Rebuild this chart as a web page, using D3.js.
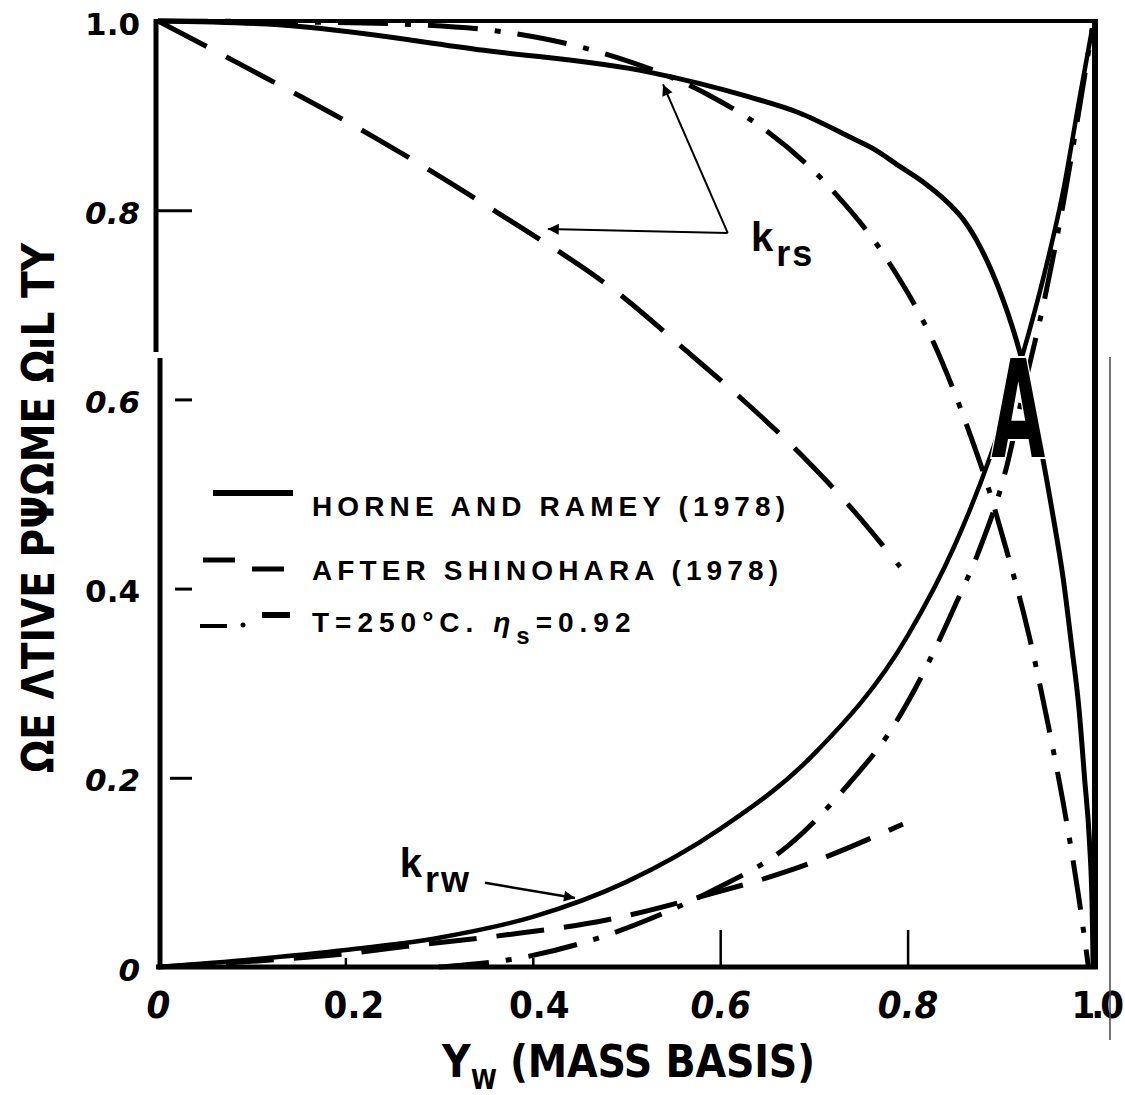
<!DOCTYPE html>
<html>
<head>
<meta charset="utf-8">
<script src="https://cdn.jsdelivr.net/npm/d3@7"></script>
<style>
  body { margin: 0; background: #fff; }
  svg { display: block; }
</style>
</head>
<body>
<div id="chart"></div>
<script>
// ---- data (Yw, kr) ----
const hrSteam = [[0,1],[0.129,0.996],[0.348,0.969],[0.524,0.946],[0.630,0.920],[0.684,0.903],[0.739,0.877],[0.765,0.864],[0.792,0.846],[0.819,0.828],[0.845,0.806],[0.861,0.788],[0.877,0.762],[0.890,0.735],[0.902,0.705],[0.911,0.679],[0.920,0.649],[0.944,0.539],[0.955,0.478],[0.966,0.411],[0.975,0.340],[0.983,0.272],[0.989,0.198],[0.994,0.134],[0.997,0.060],[0.998,0]];
const hrWater = [[0,0],[0.1,0.008],[0.2,0.018],[0.3,0.031],[0.4,0.053],[0.5,0.090],[0.6,0.146],[0.7,0.225],[0.8,0.350],[0.85,0.445],[0.888,0.539],[0.923,0.648],[0.944,0.725],[0.966,0.820],[0.984,0.921],[0.997,0.992]];
const shSteam = [[0,1],[0.094,0.951],[0.231,0.877],[0.363,0.797],[0.498,0.707],[0.563,0.652],[0.627,0.597],[0.687,0.541],[0.740,0.485],[0.792,0.423]];
const shWater = [[0,0],[0.1,0.006],[0.2,0.014],[0.275,0.023],[0.372,0.034],[0.480,0.050],[0.589,0.077],[0.671,0.101],[0.795,0.151]];
const tSteam = [[0,1],[0.15,0.999],[0.277,0.996],[0.379,0.987],[0.475,0.966],[0.591,0.920],[0.641,0.890],[0.716,0.825],[0.780,0.745],[0.825,0.666],[0.867,0.562],[0.886,0.507],[0.902,0.453],[0.929,0.353],[0.950,0.256],[0.966,0.174],[0.982,0.078],[0.993,0]];
const tWater = [[0.30,0],[0.394,0.011],[0.480,0.034],[0.535,0.055],[0.594,0.082],[0.671,0.127],[0.741,0.198],[0.780,0.247],[0.809,0.296],[0.835,0.348],[0.852,0.385],[0.875,0.437],[0.906,0.530],[0.925,0.615],[0.946,0.705],[0.967,0.812],[0.985,0.918],[0.997,0.992]];

const xTicks = [0, 0.2, 0.4, 0.6, 0.8, 1.0];
const xTickLabels = ["0", "0.2", "0.4", "0.6", "0.8", "1.0"];
const yTicks = [0, 0.2, 0.4, 0.6, 0.8, 1.0];
const yTickLabels = ["0", "0.2", "0.4", "0.6", "0.8", "1.0"];
const legendLabels = ["HORNE AND RAMEY (1978)", "AFTER SHINOHARA (1978)", "T=250°C. "];

// annotation anchors in data units
const krsVertex = [0.608, 0.776], krsTip1 = [0.539, 0.933], krsTip2 = [0.416, 0.780];
const krwFrom = [0.349, 0.089], krwTip = [0.445, 0.073];

const width = 1125, height = 1095;

const svg = d3.select("#chart").append("svg")
  .attr("width", width)
  .attr("height", height)
  .attr("viewBox", `0 0 ${width} ${height}`);

svg.append("rect").attr("width", width).attr("height", height).attr("fill", "#fff");

const x = d3.scaleLinear().domain([0, 1]).range([158, 1095]);
const y = d3.scaleLinear().domain([0, 1]).range([967, 21]);

// arrow marker
svg.append("defs").append("marker")
  .attr("id", "arr")
  .attr("viewBox", "0 0 10 10")
  .attr("refX", 10).attr("refY", 5)
  .attr("markerWidth", 24).attr("markerHeight", 11)
  .attr("markerUnits", "userSpaceOnUse")
  .attr("orient", "auto")
  .append("path").attr("d", "M0,0L10,5L0,10z").attr("fill", "#000");

// curves
const line = d3.line()
  .x(d => x(d[0]))
  .y(d => y(d[1]))
  .curve(d3.curveMonotoneX);

const series = [
  { data: shSteam, dash: "55,22", w: 5 },
  { data: shWater, dash: "48,20", w: 5 },
  { data: tSteam, dash: "50,17,6,17", w: 5 },
  { data: tWater, dash: "50,17,6,17", w: 5 },
  { data: hrSteam, dash: null, w: 5 },
  { data: hrWater, dash: null, w: 4.5 }
];

svg.append("g").selectAll("path")
  .data(series)
  .enter().append("path")
  .attr("d", d => line(d.data))
  .attr("fill", "none")
  .attr("stroke", "#000")
  .attr("stroke-width", d => d.w)
  .attr("stroke-dasharray", d => d.dash);

// frame (scan pieces)
const frame = svg.append("g").attr("stroke", "#000").attr("fill", "none");
frame.append("line").attr("x1", x(0) - 3).attr("x2", x(1) + 3).attr("y1", y(1)).attr("y2", y(1)).attr("stroke-width", 4);
frame.append("line").attr("x1", x(0) - 2).attr("x2", x(1) + 3).attr("y1", y(0)).attr("y2", y(0)).attr("stroke-width", 5);
frame.append("line").attr("x1", 156).attr("x2", 156).attr("y1", y(1) - 2).attr("y2", 352).attr("stroke-width", 5);
frame.append("line").attr("x1", 160).attr("x2", 160).attr("y1", 358).attr("y2", y(0) + 2).attr("stroke-width", 5);
frame.append("line").attr("x1", x(1)).attr("x2", x(1)).attr("y1", y(1) - 2).attr("y2", y(0) + 2).attr("stroke-width", 6);

// y axis
const yAxis = svg.append("g")
  .attr("transform", `translate(${x(0)},0)`)
  .call(d3.axisLeft(y).tickValues(yTicks).tickFormat((d, i) => yTickLabels[i]).tickSize(-34).tickPadding(18));
yAxis.select(".domain").remove();
yAxis.selectAll(".tick line")
  .attr("stroke-width", 3)
  .attr("x1", d => (d === 0.8 ? 0 : d === 0.2 ? 12 : 17))
  .attr("display", d => (d === 0 || d === 1 ? "none" : null));
yAxis.selectAll(".tick text")
  .attr("fill", "#000")
  .attr("dy", "0.42em")
  .style("font-family", "'DejaVu Sans', sans-serif")
  .style("font-weight", "bold")
  .style("font-size", "31px")
  .style("font-style", d => (d === 0.4 || d === 1 ? "normal" : "italic"));

// x axis
const xAxis = svg.append("g")
  .attr("transform", `translate(0,${y(0)})`)
  .call(d3.axisBottom(x).tickValues(xTicks).tickFormat((d, i) => xTickLabels[i]).tickSize(-37).tickPadding(24));
xAxis.select(".domain").remove();
xAxis.selectAll(".tick line")
  .attr("stroke-width", 2.5)
  .attr("y2", d => (d >= 0.6 ? -37 : -9))
  .attr("display", d => (d === 0 || d === 1 ? "none" : null));
xAxis.selectAll(".tick text")
  .attr("fill", "#000")
  .attr("dx", d => (d === 1 ? 0 : d === 0.2 ? 8 : d === 0.4 ? 6 : 0))
  .attr("text-anchor", d => (d === 1 ? "start" : "middle"))
  .attr("x", d => (d === 1 ? -24 : 0))
  .style("letter-spacing", d => (d === 1 ? "-4px" : null))
  .style("font-family", "'DejaVu Sans Condensed', 'DejaVu Sans', sans-serif")
  .style("font-weight", "bold")
  .style("font-size", "38px")
  .style("font-style", d => (d === 0 || d === 0.6 || d === 0.8 ? "italic" : "normal"));

// stray scan line at the right edge
svg.append("line").attr("x1", 1110).attr("x2", 1110).attr("y1", 357).attr("y2", 1040)
  .attr("stroke", "#444").attr("stroke-width", 1.5);

// axis titles
svg.append("text")
  .attr("transform", "translate(38,508) rotate(-90)")
  .attr("text-anchor", "middle")
  .attr("dominant-baseline", "central")
  .attr("textLength", 530)
  .attr("lengthAdjust", "spacingAndGlyphs")
  .style("font-family", "'DejaVu Sans Condensed', 'DejaVu Sans', sans-serif")
  .style("font-weight", "bold")
  .style("font-size", "44px")
  .text("ΩE ΛTIVE PΨΩME ΩıL TY");

const xt = svg.append("g")
  .style("font-family", "'DejaVu Sans Condensed', 'DejaVu Sans', sans-serif")
  .style("font-weight", "bold");
xt.append("text").attr("x", 442).attr("y", 1077).style("font-size", "44px").text("Y");
xt.append("text").attr("x", 471).attr("y", 1089).style("font-size", "26px").text("W");
xt.append("text").attr("x", 510).attr("y", 1077).style("font-size", "44px")
  .attr("textLength", 305).attr("lengthAdjust", "spacing").text("(MASS BASIS)");

// legend
const lg = svg.append("g").attr("stroke", "#000").attr("fill", "none");
lg.append("line").attr("x1", 213).attr("x2", 293).attr("y1", 493).attr("y2", 493).attr("stroke-width", 6);
lg.append("line").attr("x1", 203).attr("x2", 235).attr("y1", 560).attr("y2", 560).attr("stroke-width", 5);
lg.append("line").attr("x1", 252).attr("x2", 284).attr("y1", 569).attr("y2", 569).attr("stroke-width", 5);
lg.append("line").attr("x1", 200).attr("x2", 227).attr("y1", 626).attr("y2", 626).attr("stroke-width", 4);
lg.append("circle").attr("cx", 243).attr("cy", 625).attr("r", 2.5).attr("fill", "#000").attr("stroke", "none");
lg.append("line").attr("x1", 262).attr("x2", 290).attr("y1", 615).attr("y2", 615).attr("stroke-width", 6);

const lt = svg.append("g")
  .style("font-family", "'Liberation Sans', Arial, sans-serif")
  .style("font-weight", "bold")
  .style("font-size", "28px");
lt.append("text").attr("x", 312).attr("y", 516)
  .attr("textLength", 473).attr("lengthAdjust", "spacing").text(legendLabels[0]);
lt.append("text").attr("x", 312).attr("y", 580)
  .attr("textLength", 466).attr("lengthAdjust", "spacing").text(legendLabels[1]);
const t3 = lt.append("text").attr("x", 312).attr("y", 632).style("white-space", "pre")
  .style("letter-spacing", "6px");
t3.append("tspan").text(legendLabels[2]);
t3.append("tspan").style("font-style", "italic").text("η");
t3.append("tspan").attr("dy", 12).style("font-size", "24px").text("s");
t3.append("tspan").attr("dy", -12).text("=0.92");

// annotations
const ann = svg.append("g").attr("stroke", "#000").attr("stroke-width", 2).attr("fill", "none");
ann.append("line")
  .attr("x1", x(krsVertex[0])).attr("y1", y(krsVertex[1]))
  .attr("x2", x(krsTip1[0])).attr("y2", y(krsTip1[1]))
  .attr("marker-end", "url(#arr)");
ann.append("line")
  .attr("x1", x(krsVertex[0])).attr("y1", y(krsVertex[1]))
  .attr("x2", x(krsTip2[0])).attr("y2", y(krsTip2[1]))
  .attr("marker-end", "url(#arr)");
ann.append("line")
  .attr("x1", x(krwFrom[0])).attr("y1", y(krwFrom[1]))
  .attr("x2", x(krwTip[0])).attr("y2", y(krwTip[1]))
  .attr("stroke-width", 2.5)
  .attr("marker-end", "url(#arr)");

function kLabel(px, py, sub) {
  const t = svg.append("text").attr("x", px).attr("y", py)
    .style("font-family", "'Liberation Sans', Arial, sans-serif")
    .style("font-weight", "bold");
  t.append("tspan").style("font-size", "40px").text("k");
  t.append("tspan").attr("dx", 3).attr("dy", 15).style("font-size", "36px").style("letter-spacing", "2px").text(sub);
}
kLabel(x(0.633), y(0.757), "rs");
kLabel(x(0.258), y(0.095), "rw");

// the stray big "A" of the scan
svg.append("text")
  .attr("x", x(0.918)).attr("y", 457)
  .attr("text-anchor", "middle")
  .attr("textLength", 54)
  .attr("lengthAdjust", "spacingAndGlyphs")
  .style("font-family", "'DejaVu Sans Condensed', 'DejaVu Sans', sans-serif")
  .style("font-weight", "bold")
  .style("font-size", "136px")
  .style("paint-order", "stroke")
  .attr("stroke", "#fff")
  .attr("stroke-width", 4)
  .text("A");
</script>
</body>
</html>
